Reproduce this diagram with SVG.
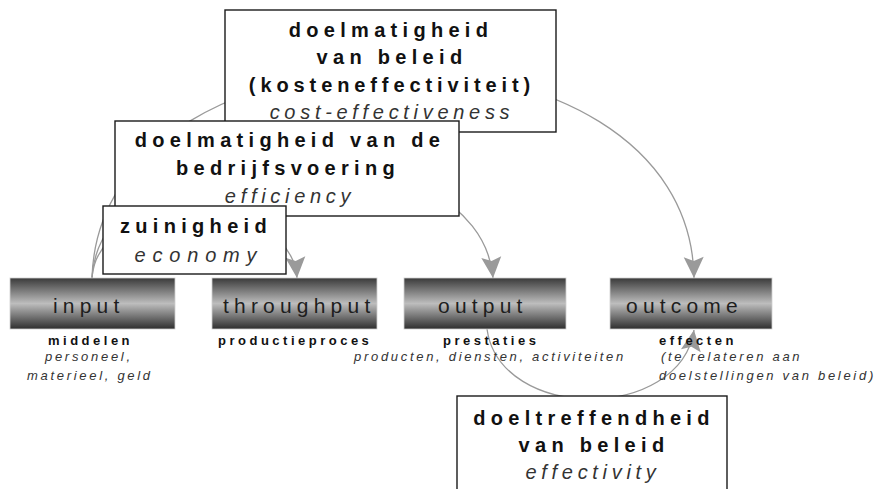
<svg xmlns="http://www.w3.org/2000/svg" width="875" height="489" viewBox="0 0 875 489">
<style>
  text { font-family: "Liberation Sans", Arial, Helvetica, sans-serif; }
  .box { fill: #ffffff; stroke: #1a1a1a; stroke-width: 1.4; }
  .b { font-size: 20px; font-weight: bold; fill: #111; letter-spacing: 5.3px; text-anchor: middle; }
  .i { font-size: 20px; font-style: italic; fill: #333; letter-spacing: 4.7px; text-anchor: middle; }
  .bar { fill: url(#barGrad); stroke: #cfcfcf; stroke-width: 0.8; }
  .bt { font-size: 21px; fill: #1e1e1e; letter-spacing: 5.2px; }
  .lb { font-size: 13px; font-weight: bold; fill: #111; letter-spacing: 3.5px; }
  .li { font-size: 13px; font-style: italic; fill: #333; letter-spacing: 2.7px; }
  .conn { fill: none; stroke: #9a9a9a; stroke-width: 1.3; }
</style>
<defs>
  <linearGradient id="barGrad" x1="0" y1="0" x2="0" y2="1">
    <stop offset="0" stop-color="#3a3a3a"/>
    <stop offset="0.5" stop-color="#bdbdbd"/>
    <stop offset="1" stop-color="#2e2e2e"/>
  </linearGradient>
  <marker id="arrow" markerUnits="userSpaceOnUse" markerWidth="26" markerHeight="26" viewBox="-23 -13 26 26" refX="0" refY="0" orient="auto">
    <path d="M0,0 L-21,-10 L-17,0 L-21,10 Z" fill="#9a9a9a"/>
  </marker>
</defs>
<rect width="875" height="489" fill="#ffffff"/>

<g id="connectors">
  <path class="conn" d="M92,278 C98,190 290,190 297,278" marker-end="url(#arrow)"/>
  <path class="conn" d="M92,278 C100,120 480,120 493,278" marker-end="url(#arrow)"/>
  <path class="conn" d="M92,278 C100,0 690,0 694,278" marker-end="url(#arrow)"/>
  <path class="conn" d="M487,329 C500,422 680,422 694,330" marker-end="url(#arrow)"/>
</g>

<g id="input">
  <rect class="bar" x="10" y="278" width="165" height="51"/>
  <text class="bt" x="53" y="313">input</text>
  <text class="lb" x="48" y="345">middelen</text>
  <text class="li" x="45" y="361">personeel,</text>
  <text class="li" x="27" y="380">materieel, geld</text>
</g>
<g id="throughput">
  <rect class="bar" x="212" y="278" width="165" height="51"/>
  <text class="bt" x="223" y="313">throughput</text>
  <text class="lb" x="218" y="345">productieproces</text>
</g>
<g id="output">
  <rect class="bar" x="404" y="278" width="162" height="51"/>
  <text class="bt" x="438" y="313">output</text>
  <text class="lb" x="443" y="345">prestaties</text>
  <text class="li" x="354" y="361">producten, diensten, activiteiten</text>
</g>
<g id="outcome">
  <rect class="bar" x="610" y="278" width="162" height="51"/>
  <text class="bt" x="626" y="313">outcome</text>
  <text class="lb" x="659" y="345">effecten</text>
  <text class="li" x="661" y="361">(te relateren aan</text>
  <text class="li" x="659" y="380">doelstellingen van beleid)</text>
</g>

<g id="doelmatigheid-beleid">
  <rect class="box" x="225" y="10" width="331" height="122"/>
  <text class="b" x="391" y="37">doelmatigheid</text>
  <text class="b" x="392" y="64">van beleid</text>
  <text class="b" x="392" y="92" style="letter-spacing:4.9px">(kosteneffectiviteit)</text>
  <text class="i" x="392" y="119">cost-effectiveness</text>
</g>
<g id="doelmatigheid-bedrijfsvoering">
  <rect class="box" x="115" y="121" width="344" height="95"/>
  <text class="b" x="290" y="147">doelmatigheid van de</text>
  <text class="b" x="288" y="175">bedrijfsvoering</text>
  <text class="i" x="290" y="203">efficiency</text>
</g>
<g id="zuinigheid">
  <rect class="box" x="103" y="206" width="183" height="68"/>
  <text class="b" x="196" y="233">zuinigheid</text>
  <text class="i" x="199" y="262" style="letter-spacing:6.8px">economy</text>
</g>
<g id="doeltreffendheid">
  <rect class="box" x="457" y="396" width="270" height="110"/>
  <text class="b" x="594" y="425">doeltreffendheid</text>
  <text class="b" x="594" y="452">van beleid</text>
  <text class="i" x="593" y="479">effectivity</text>
</g>
</svg>
